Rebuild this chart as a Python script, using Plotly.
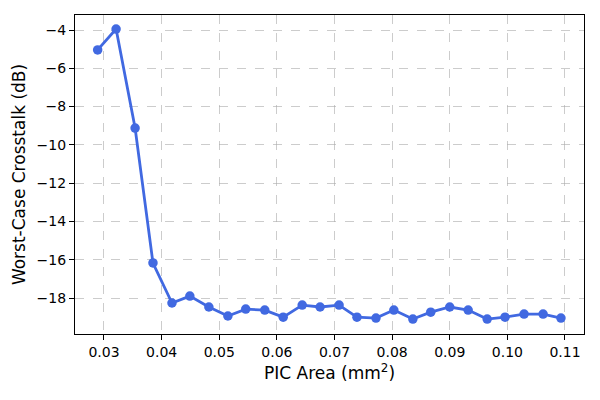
import plotly.graph_objects as go

pic_area = [0.0289, 0.0321, 0.0354, 0.0385, 0.0418, 0.0449, 0.0482, 0.0515, 0.0546,
            0.0579, 0.0611, 0.0644, 0.0675, 0.0708, 0.0739, 0.0772, 0.0803, 0.0836,
            0.0867, 0.0900, 0.0932, 0.0965, 0.0996, 0.1029, 0.1062, 0.1093]
crosstalk = [-5.04, -3.95, -9.12, -16.17, -18.26, -17.90, -18.47, -18.94, -18.58,
             -18.63, -19.00, -18.37, -18.47, -18.37, -19.00, -19.05, -18.63, -19.10,
             -18.74, -18.47, -18.63, -19.10, -19.00, -18.84, -18.84, -19.05]

x_ticks = [0.03, 0.04, 0.05, 0.06, 0.07, 0.08, 0.09, 0.10, 0.11]
y_ticks = [-18, -16, -14, -12, -10, -8, -6, -4]

fig = go.Figure()
fig.add_trace(go.Scatter(
    x=pic_area, y=crosstalk, mode="lines+markers",
    line=dict(color="#4169E1", width=2.8),
    marker=dict(color="#4169E1", size=9.5),
    showlegend=False,
))

axis_common = dict(
    showline=True, linecolor="black", linewidth=1.2, mirror=True,
    ticks="outside", ticklen=5, tickcolor="black", tickwidth=1,
    showgrid=True, gridcolor="rgba(170,170,170,0.6)", griddash="dash", gridwidth=1,
    zeroline=False, tickfont=dict(size=14, color="black"), automargin=False,
)

fig.update_layout(
    width=600, height=400,
    margin=dict(l=67, r=24, t=7, b=74),
    plot_bgcolor="white", paper_bgcolor="white",
    font=dict(family="DejaVu Sans", color="black"),
    xaxis=dict(range=[0.02497, 0.1133], tickvals=x_ticks, tickformat=".2f",
               title=dict(text="PIC Area (mm<sup>2</sup>)", font=dict(size=17), standoff=8),
               **axis_common),
    yaxis=dict(range=[-19.88, -3.216], tickvals=y_ticks,
               title=dict(text="Worst-Case Crosstalk (dB)", font=dict(size=17), standoff=6),
               **axis_common),
)

fig.write_html("out.html")
